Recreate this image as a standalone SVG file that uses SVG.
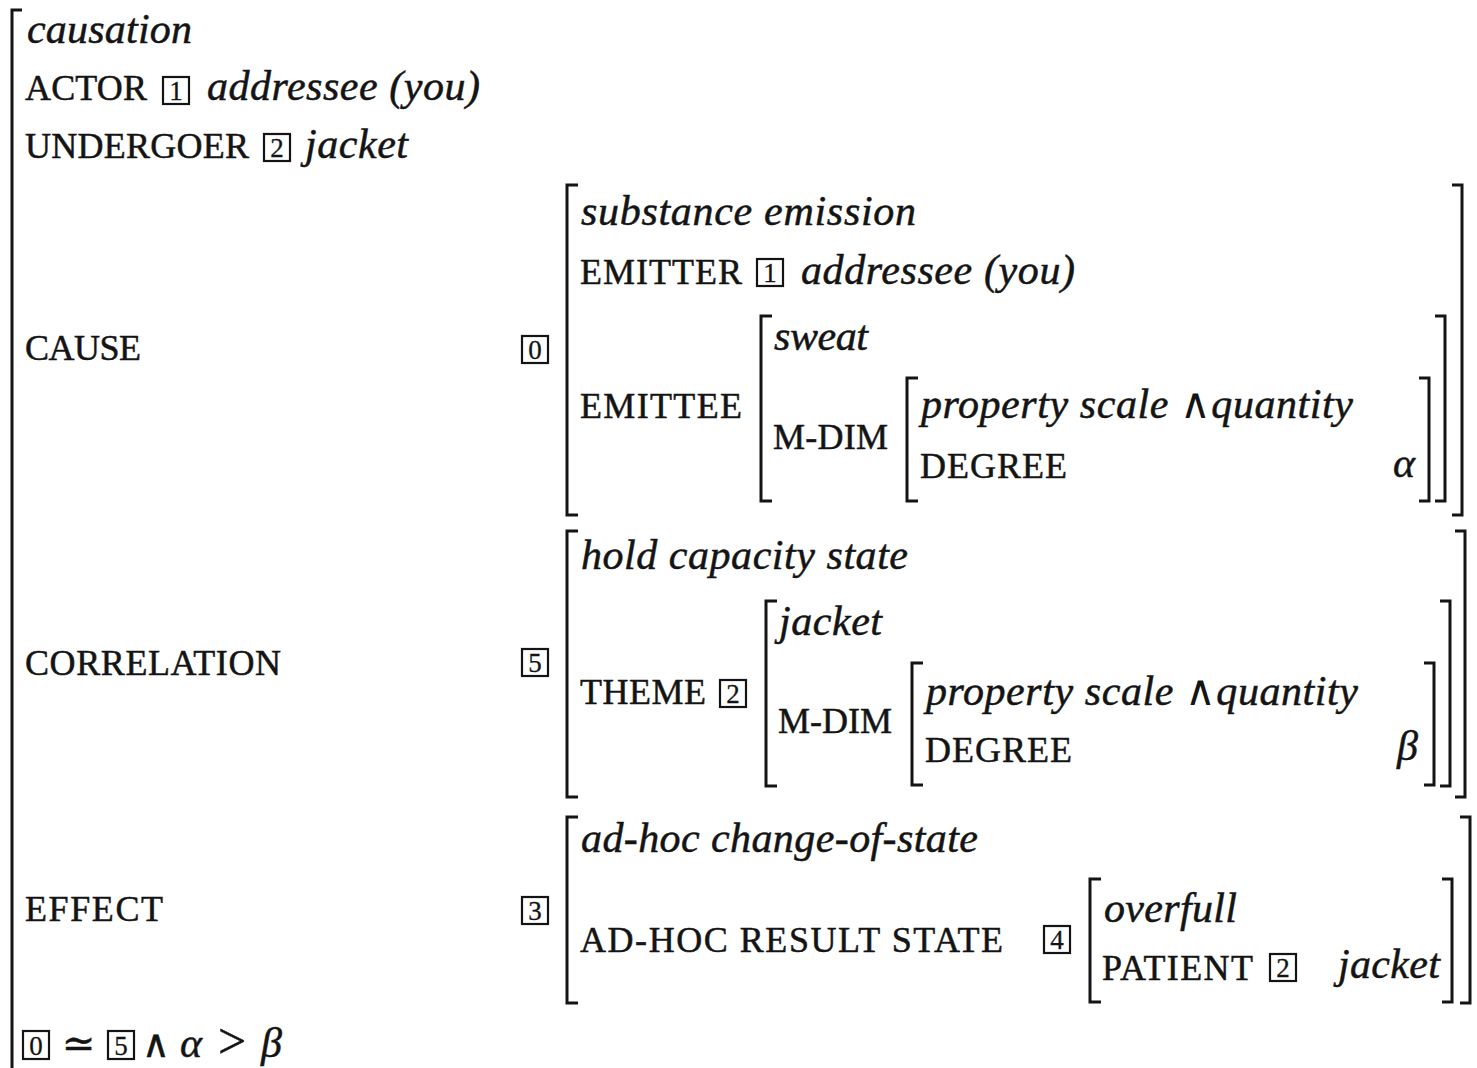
<svg xmlns="http://www.w3.org/2000/svg" width="1477" height="1068" viewBox="0 0 1477 1068">
<style>
text{font-family:"Liberation Serif","DejaVu Serif",serif;fill:#141414;stroke:#141414;stroke-width:0.5}
.it{font-style:italic;font-size:42px}
.sc{font-size:36px}
.num{font-size:27px;text-anchor:middle;stroke-width:0.3}
.m{font-style:normal;stroke-width:0}
.br{fill:none;stroke:#141414;stroke-width:3}
.bx{fill:none;stroke:#141414;stroke-width:2.2}
</style>
<rect width="1477" height="1068" fill="#fff"/>
<g id="brackets">
<path class="br" d="M22,10 H12 V1068"/>
<path class="br" d="M578,185 H567 V515 H578"/>
<path class="br" d="M1452,185 H1462 V515 H1452"/>
<path class="br" d="M772,316 H761 V501 H772"/>
<path class="br" d="M1435,316 H1445 V501 H1435"/>
<path class="br" d="M918,378 H907 V501 H918"/>
<path class="br" d="M1419,378 H1429 V501 H1419"/>
<path class="br" d="M578,531 H567 V797 H578"/>
<path class="br" d="M1455,531 H1465 V797 H1455"/>
<path class="br" d="M777,601 H766 V786 H777"/>
<path class="br" d="M1440,601 H1450 V786 H1440"/>
<path class="br" d="M923,663 H912 V785 H923"/>
<path class="br" d="M1424,663 H1434 V785 H1424"/>
<path class="br" d="M578,817 H567 V1003 H578"/>
<path class="br" d="M1460,817 H1470 V1003 H1460"/>
<path class="br" d="M1101,879 H1090 V1002 H1101"/>
<path class="br" d="M1442,879 H1452 V1002 H1442"/>
</g>
<g id="top">
<text class="it" x="27" y="43" textLength="165">causation</text>
<text class="sc" x="25" y="100" textLength="122">ACTOR</text>
<rect class="bx" x="163" y="77" width="26" height="27"/><text class="num" x="176" y="100">1</text>
<text class="it" x="207" y="100" textLength="273">addressee (you)</text>
<text class="sc" x="25" y="158" textLength="224">UNDERGOER</text>
<rect class="bx" x="264" y="134" width="26" height="27"/><text class="num" x="277" y="157">2</text>
<text class="it" x="305" y="158" textLength="103">jacket</text>
</g>
<g id="cause">
<text class="sc" x="25" y="360" textLength="116">CAUSE</text>
<rect class="bx" x="522" y="336" width="26" height="27"/><text class="num" x="535" y="359">0</text>
<text class="it" x="581" y="225" textLength="335">substance emission</text>
<text class="sc" x="580" y="284" textLength="162">EMITTER</text>
<rect class="bx" x="757" y="259" width="26" height="27"/><text class="num" x="770" y="282">1</text>
<text class="it" x="801" y="284" textLength="274">addressee (you)</text>
<text class="sc" x="580" y="418" textLength="162">EMITTEE</text>
<text class="it" x="774" y="350" textLength="94">sweat</text>
<text class="sc" x="773" y="449" textLength="115">M-DIM</text>
<text class="it" x="921" y="418" textLength="432">property scale <tspan class="m">∧</tspan>quantity</text>
<text class="sc" x="920" y="478" textLength="147">DEGREE</text>
<text class="it" x="1393" y="477">α</text>
</g>
<g id="correlation">
<text class="sc" x="25" y="675" textLength="256">CORRELATION</text>
<rect class="bx" x="522" y="649" width="26" height="27"/><text class="num" x="535" y="672">5</text>
<text class="it" x="581" y="569" textLength="327">hold capacity state</text>
<text class="sc" x="580" y="704" textLength="126">THEME</text>
<rect class="bx" x="720" y="680" width="26" height="27"/><text class="num" x="733" y="703">2</text>
<text class="it" x="779" y="635" textLength="103">jacket</text>
<text class="sc" x="778" y="733" textLength="114">M-DIM</text>
<text class="it" x="926" y="705" textLength="432">property scale <tspan class="m">∧</tspan>quantity</text>
<text class="sc" x="925" y="762" textLength="147">DEGREE</text>
<text class="it" x="1397" y="760">β</text>
</g>
<g id="effect">
<text class="sc" x="25" y="921" textLength="138">EFFECT</text>
<rect class="bx" x="522" y="897" width="26" height="27"/><text class="num" x="535" y="920">3</text>
<text class="it" x="581" y="852" textLength="397">ad-hoc change-of-state</text>
<text class="sc" x="580" y="952" textLength="423">AD-HOC RESULT STATE</text>
<rect class="bx" x="1044" y="926" width="26" height="27"/><text class="num" x="1057" y="949">4</text>
<text class="it" x="1104" y="922" textLength="133">overfull</text>
<text class="sc" x="1102" y="980" textLength="151">PATIENT</text>
<rect class="bx" x="1270" y="954" width="26" height="27"/><text class="num" x="1283" y="977">2</text>
<text class="it" x="1338" y="978" textLength="102">jacket</text>
</g>
<g id="constraint">
<rect class="bx" x="23" y="1031" width="26" height="28"/><text class="num" x="36" y="1055">0</text>
<text x="62" y="1057" font-size="40" stroke-width="0">≃</text>
<rect class="bx" x="108" y="1031" width="26" height="28"/><text class="num" x="121" y="1055">5</text>
<text x="142" y="1057" font-size="38" stroke-width="0">∧</text>
<text class="it" x="180" y="1057">α</text>
<text x="218" y="1058" font-size="50" stroke-width="0">&gt;</text>
<text class="it" x="261" y="1057">β</text>
</g>
</svg>
